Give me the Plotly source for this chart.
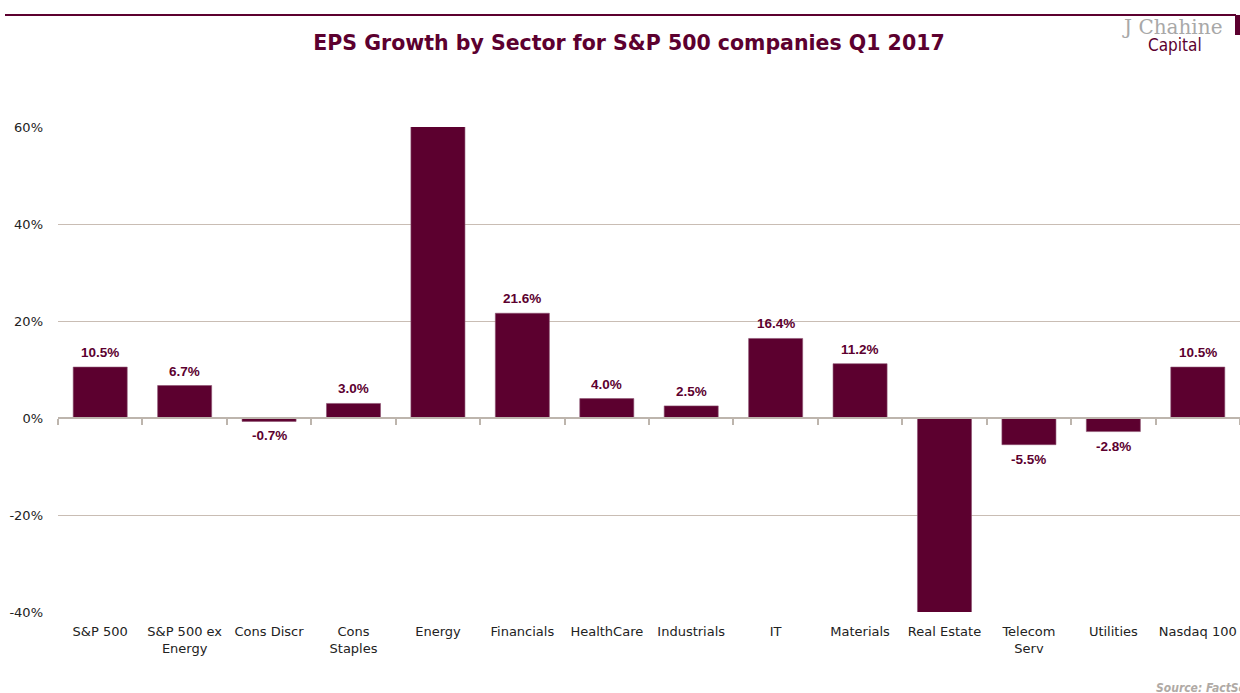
import plotly.graph_objects as go

categories = ["S&P 500", "S&P 500 ex<br>Energy", "Cons Discr", "Cons<br>Staples", "Energy",
              "Financials", "HealthCare", "Industrials", "IT", "Materials", "Real Estate",
              "Telecom<br>Serv", "Utilities", "Nasdaq 100"]
eps_growth = [10.5, 6.7, -0.7, 3.0, 654.0, 21.6, 4.0, 2.5, 16.4, 11.2, -47.0, -5.5, -2.8, 10.5]
labels = ["10.5%", "6.7%", "-0.7%", "3.0%", None, "21.6%", "4.0%", "2.5%", "16.4%",
          "11.2%", None, "-5.5%", "-2.8%", "10.5%"]
y_ticks = [-40, -20, 0, 20, 40, 60]
y_ticktext = ["-40%", "-20%", "0%", "20%", "40%", "60%"]

MAROON = "#5c002f"
W, H = 1240, 693
ml, mr, mt, mb = 58, 0, 127, 81

fig = go.Figure()
fig.add_trace(go.Bar(x=categories, y=eps_growth, width=0.64,
                     marker=dict(color=MAROON, line=dict(color="#8c5070", width=0.6)),
                     hoverinfo="skip", xaxis="x", yaxis="y"))
# transparent copy to drive the zero-line axis with boundary ticks
fig.add_trace(go.Bar(x=categories, y=eps_growth, width=0.64, marker=dict(opacity=0),
                     hoverinfo="skip", xaxis="x2", yaxis="y", showlegend=False))

for c, v, t in zip(categories, eps_growth, labels):
    if t is None:
        continue
    fig.add_annotation(x=c, y=v, xref="x", yref="y", text=t, showarrow=False,
                       yanchor="bottom" if v >= 0 else "top",
                       yshift=5 if v >= 0 else -5,
                       font=dict(family="Liberation Sans, Arial", size=13.5, color=MAROON,
                                 weight="bold"))

zero_pos = (0 - y_ticks[0]) / (y_ticks[-1] - y_ticks[0])

fig.update_layout(
    width=W, height=H,
    margin=dict(l=ml, r=mr, t=mt, b=mb),
    paper_bgcolor="white", plot_bgcolor="white",
    showlegend=False, bargap=0.36,
    font=dict(family="DejaVu Sans", size=13, color="#222222"),
    title=dict(text="<b>EPS Growth by Sector for S&P 500 companies Q1 2017</b>",
               x=629 / W, xanchor="center", xref="container",
               y=1 - 43 / H, yanchor="middle", yref="container",
               font=dict(family="DejaVu Sans", size=20.5, color=MAROON)),
    xaxis=dict(type="category", categoryorder="array", categoryarray=categories,
               range=[-0.5, len(categories) - 0.5], showgrid=False, showline=False,
               ticks="", zeroline=False, ticklabelstandoff=10,
               tickfont=dict(family="DejaVu Sans", size=13, color="#222222")),
    xaxis2=dict(type="category", categoryorder="array", categoryarray=categories,
                range=[-0.5, len(categories) - 0.5], overlaying="x", anchor="free",
                position=zero_pos, side="bottom", showline=True, linecolor="#bdb5ad",
                linewidth=2, ticks="outside", tickson="boundaries", ticklen=6,
                tickcolor="#bdb5ad", tickwidth=1.5, showticklabels=False,
                showgrid=False, zeroline=False),
    yaxis=dict(range=[y_ticks[0], y_ticks[-1]], tickvals=y_ticks, ticktext=y_ticktext,
               showgrid=True, gridcolor="#c9bdb4", gridwidth=1, zeroline=False,
               showline=False, ticks="", ticklabelstandoff=14,
               tickfont=dict(family="DejaVu Sans", size=13, color="#222222")),
)

# top rule
fig.add_shape(type="line", xref="paper", yref="paper",
              x0=(5 - ml) / (W - ml - mr), x1=(1236 - ml) / (W - ml - mr),
              y0=1 + (mt - 15) / (H - mt - mb), y1=1 + (mt - 15) / (H - mt - mb),
              line=dict(color=MAROON, width=2))
# logo square
fig.add_shape(type="rect", xref="paper", yref="paper",
              x0=(1235 - ml) / (W - ml - mr), x1=(1241 - ml) / (W - ml - mr),
              y0=1 + (mt - 35) / (H - mt - mb), y1=1 + (mt - 15) / (H - mt - mb),
              fillcolor=MAROON, line=dict(width=0))
fig.add_annotation(text="J Chahine", xref="paper", yref="paper",
                   x=(1120 - ml) / (W - ml - mr), y=1 + (mt - 27) / (H - mt - mb),
                   xanchor="left", yanchor="middle", showarrow=False,
                   font=dict(family="DejaVu Serif", size=20, color="#a8a8a8"))
fig.add_annotation(text="Capital", xref="paper", yref="paper",
                   x=(1146 - ml) / (W - ml - mr), y=1 + (mt - 45) / (H - mt - mb),
                   xanchor="left", yanchor="middle", showarrow=False,
                   font=dict(family="DejaVu Sans Condensed", size=17, color=MAROON))
fig.add_annotation(text="<i>Source: FactSet</i>", xref="paper", yref="paper",
                   x=(1154 - ml) / (W - ml - mr), y=-(688 - (H - mb)) / (H - mt - mb),
                   xanchor="left", yanchor="middle", showarrow=False,
                   font=dict(family="DejaVu Sans Condensed", size=12, color="#b0aaa5",
                             weight="bold"))

fig.write_html("out.html")
